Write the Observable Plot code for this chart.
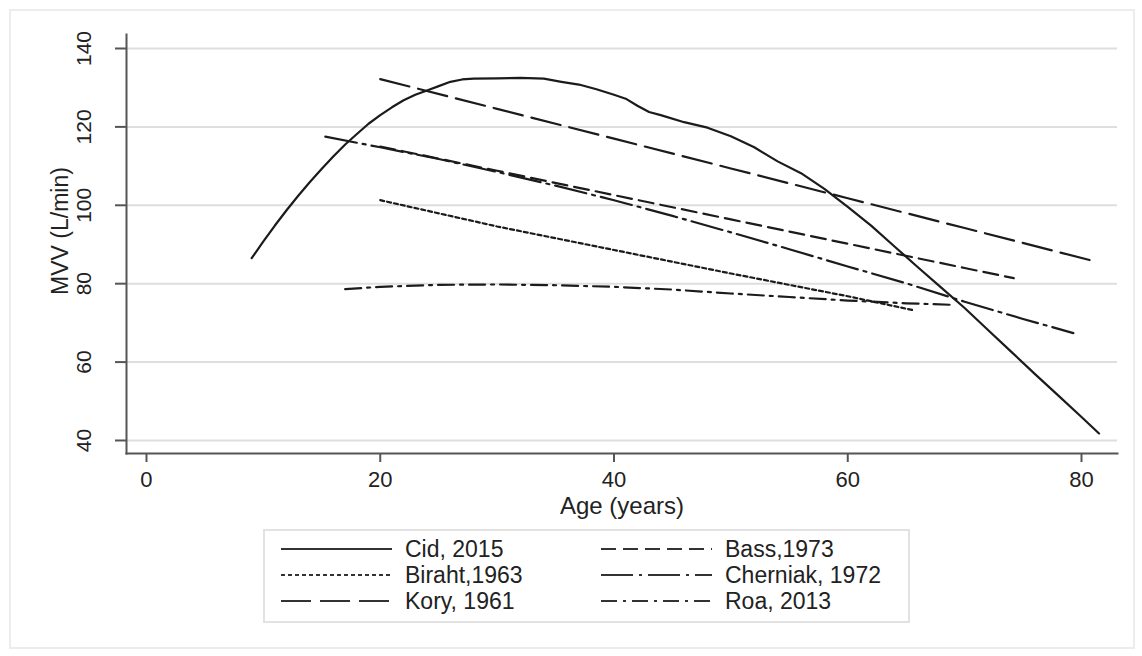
<!DOCTYPE html>
<html>
<head>
<meta charset="utf-8">
<script src="https://cdn.jsdelivr.net/npm/d3@7"></script>
<script src="https://cdn.jsdelivr.net/npm/@observablehq/plot@0.6"></script>
<style>
  html, body { margin: 0; padding: 0; background: #fff; }
  #page { position: relative; width: 1142px; height: 656px; overflow: hidden; font-family: "Liberation Sans", Arial, sans-serif; }
  #border { position: absolute; left: 9px; top: 9px; width: 1126px; height: 640px; border: 2px solid #ececec; box-sizing: border-box; }
  #chart { position: absolute; left: 0; top: 0; }
  #legend { position: absolute; left: 263px; top: 529px; width: 647px; height: 94px; border: 2px solid #e2e2e2; box-sizing: border-box; }
  .item { position: absolute; height: 26px; display: flex; align-items: center; font-size: 23px; color: #222; white-space: nowrap; }
  .item svg { margin-right: 13px; }
</style>
</head>
<body>
<div id="page">
  <div id="border"></div>
  <div id="chart"></div>
  <div id="legend"></div>
</div>
<script>
// MVV (maximal voluntary ventilation) prediction curves by age, one per study
const cidAge  = [9, 10, 11, 12, 13, 14, 15, 16, 17, 18, 19, 20, 21, 22, 23, 24, 25, 26, 27, 28, 30, 32, 34, 35.5, 37, 38.5, 40, 41, 42, 43, 44, 46, 48, 50, 52, 54, 56, 58, 60, 62, 64, 66, 68, 70, 72, 74, 76, 78, 80, 81.5];
const cidMvv  = [86.5, 90.8, 94.9, 98.8, 102.5, 106, 109.3, 112.5, 115.5, 118.2, 120.8, 123, 125, 126.8, 128.2, 129.3, 130.4, 131.5, 132.1, 132.3, 132.4, 132.5, 132.3, 131.5, 130.8, 129.6, 128.2, 127.2, 125.4, 123.8, 123, 121.2, 119.8, 117.6, 114.8, 111.2, 108.2, 104.2, 99.6, 94.8, 89.5, 84.2, 79, 73.8, 68.2, 62.6, 57, 51.5, 46, 41.8];

const bassAge = [20, 30, 40, 50, 60, 70, 74.2];
const bassMvv = [115, 108.8, 102.6, 96.4, 90.2, 84, 81.4];

const birahtAge = [20, 30, 40, 50, 60, 65.5];
const birahtMvv = [101.3, 94.6, 88.6, 82.6, 76.8, 73.3];

const cherniakAge = [15.3, 20, 25, 30, 35, 40, 45, 50, 55, 60, 65, 70, 75, 79.3];
const cherniakMvv = [117.5, 114.8, 111.8, 108.5, 105, 101.3, 97.3, 93.1, 88.8, 84.4, 80.1, 75.4, 71, 67.4];

const koryAge = [20, 30, 40, 50, 60, 70, 81];
const koryMvv = [132.2, 124.6, 117, 109.4, 101.8, 94.2, 85.8];

const roaAge = [17, 20, 25, 30, 35, 40, 45, 50, 55, 60, 65, 69];
const roaMvv = [78.6, 79.2, 79.7, 79.8, 79.6, 79.2, 78.5, 77.5, 76.6, 75.7, 75, 74.6];

const studies = ["Cid, 2015", "Bass,1973", "Biraht,1963", "Cherniak, 1972", "Kory, 1961", "Roa, 2013"];
const dashes  = ["none", "15,7", "4,3", "32,6,3,6", "30,9", "16,6,3,6"];

const xTicks = [0, 20, 40, 60, 80];
const yTicks = [40, 60, 80, 100, 120, 140];

const series = [
  [cidAge, cidMvv], [bassAge, bassMvv], [birahtAge, birahtMvv],
  [cherniakAge, cherniakMvv], [koryAge, koryMvv], [roaAge, roaMvv]
];

const rows = series.flatMap(([ages, vals], i) =>
  ages.map((a, j) => ({study: studies[i], age: a, mvv: vals[j]}))
);

const ink = "#1b1b1b";
const axisInk = "#555";

const chart = Plot.plot({
  width: 1142,
  height: 520,
  marginLeft: 126,
  marginRight: 25,
  marginTop: 34,
  marginBottom: 67,
  x: {domain: [-1.711, 83.08]},
  y: {domain: [36.68, 143.57]},
  style: {fontFamily: "'Liberation Sans', Arial, sans-serif", background: "transparent", color: "#222"},
  marks: [
    // horizontal grid
    Plot.ruleY(yTicks, {stroke: "#dedede", strokeWidth: 2}),
    // axis lines
    Plot.frame({anchor: "left", stroke: axisInk, strokeWidth: 2}),
    Plot.frame({anchor: "bottom", stroke: axisInk, strokeWidth: 2}),
    // tick marks
    Plot.axisY({ticks: yTicks, tickSize: 11, tickFormat: () => "", stroke: axisInk, strokeWidth: 2, label: null}),
    Plot.axisX({ticks: xTicks, tickSize: 9, tickPadding: 9, fontSize: 22, stroke: axisInk, strokeWidth: 2, label: null, fill: "#222"}),
    // rotated y tick labels
    Plot.text(yTicks, {y: d => d, text: d => String(d), frameAnchor: "left", dx: -42.5, rotate: -90, textAnchor: "middle", lineAnchor: "middle", fontSize: 21, fill: "#222"}),
    // axis titles
    Plot.text(["MVV (L/min)"], {frameAnchor: "left", dx: -59, dy: -13, rotate: -90, textAnchor: "middle", lineAnchor: "bottom", fontSize: 23, fill: "#222"}),
    Plot.text(["Age (years)"], {frameAnchor: "bottom", dy: 60, textAnchor: "middle", lineAnchor: "bottom", fontSize: 24, fill: "#222"}),
    // study curves
    ...studies.map((s, i) =>
      Plot.line(rows.filter(d => d.study === s), {
        x: "age", y: "mvv", stroke: ink, strokeWidth: 2.2,
        strokeDasharray: dashes[i], curve: "linear"
      })
    )
  ]
});
document.getElementById("chart").append(chart);

// legend: two columns, three rows
const legend = d3.select("#legend");
const colSwatch = [16, 336];
studies.forEach((s, i) => {
  const col = i % 2, row = Math.floor(i / 2);
  const item = legend.append("div").attr("class", "item")
    .style("left", colSwatch[col] + "px")
    .style("top", (5 + row * 26) + "px");
  const sw = item.append("svg").attr("width", 111).attr("height", 10);
  sw.append("line").attr("x1", 0).attr("x2", 111).attr("y1", 5).attr("y2", 5)
    .attr("stroke", "#333").attr("stroke-width", 2.2)
    .attr("stroke-dasharray", dashes[i] === "none" ? null : dashes[i]);
  item.append("span").text(s);
});
</script>
</body>
</html>
